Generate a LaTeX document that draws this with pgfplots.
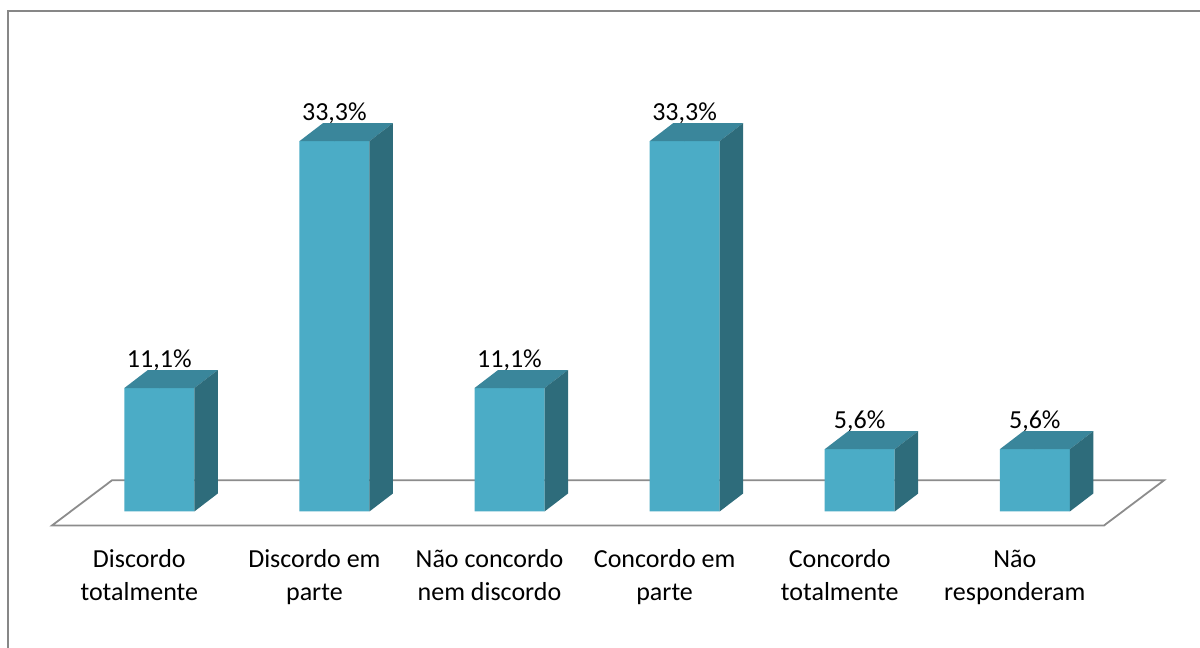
\documentclass[border=0pt]{standalone}
\usepackage{fontspec}
\setmainfont{Carlito}
\usepackage{pgfplots}
\pgfplotsset{compat=1.18}
\usepackage{pgfplotstable}
\definecolor{frontc}{HTML}{4BACC6}
\definecolor{topc}{HTML}{3A869B}
\definecolor{sidec}{HTML}{2E6C7B}
\definecolor{floorc}{HTML}{8C8C8C}
\definecolor{borderc}{HTML}{878787}
\pgfplotstableread{
x y
0 11.1
1 33.3
2 11.1
3 33.3
4 5.6
5 5.6
}\datatable
\begin{document}
\begin{tikzpicture}
\useasboundingbox (0,0) rectangle (600pt,324pt);
\draw[color=borderc, line width=1pt] (4pt,-5pt) -- (4pt,318.5pt) -- (605pt,318.5pt);
\filldraw[fill=white, draw=floorc, line width=0.9pt, line join=miter]
  (26pt,61.25pt) -- (552pt,61.25pt) -- (582pt,83.85pt) -- (56pt,83.85pt) -- cycle;
\begin{axis}[
  x=87.55pt, y=5.56pt,
  xmin=-0.6, xmax=5.6, ymin=0, ymax=40,
  at={(27.12pt,68.25pt)}, anchor=south west,
  clip=false,
  axis line style={draw=none},
  tick style={draw=none},
  ytick=\empty,
  xtick={0,1,2,3,4,5},
  xticklabels={{\strut Discordo\\totalmente},{\strut Discordo em\\parte},{\strut Não concordo\\nem discordo},{\strut Concordo em\\parte},{\strut Concordo\\totalmente},{\strut Não\\responderam}},
  xticklabel style={anchor=north, inner sep=0pt, yshift=-16.45pt, xshift=-10pt, align=center, font=\fontsize{13}{16.35}\selectfont},
  /pgf/number format/assume math mode=true,
]
\addplot[ybar, bar width=35pt, fill=frontc, draw=none,
  nodes near coords={\pgfmathprintnumber[fixed, precision=1, fixed zerofill, use comma]{\pgfplotspointmeta}\%},
  every node near coord/.append style={anchor=base, yshift=10.2pt, inner sep=0pt, text=black, font=\fontsize{13}{16}\selectfont},
] table[x=x, y=y] {\datatable};
\addplot[scatter, only marks, mark=*, mark size=0pt,
  mark options={draw=none, fill=none},
  visualization depends on={\thisrow{y} \as \val},
  scatter/@pre marker code/.code={%
    \pgfmathsetmacro\h{\val*5.56}%
    \pgfmathsetmacro\hb{9-\val*5.56}%
    \fill[topc, fill opacity=1, draw=none] (-17.5pt,0pt) -- (17.5pt,0pt) -- (29.25pt,9pt) -- (-5.75pt,9pt) -- cycle;
    \fill[sidec, fill opacity=1, draw=none] (17.5pt,0pt) -- (29.25pt,9pt) -- (29.25pt,\hb pt) -- (17.5pt,-\h pt) -- cycle;
  },
  scatter/@post marker code/.code={},
] table[x=x, y=y] {\datatable};
\end{axis}
\end{tikzpicture}
\end{document}
